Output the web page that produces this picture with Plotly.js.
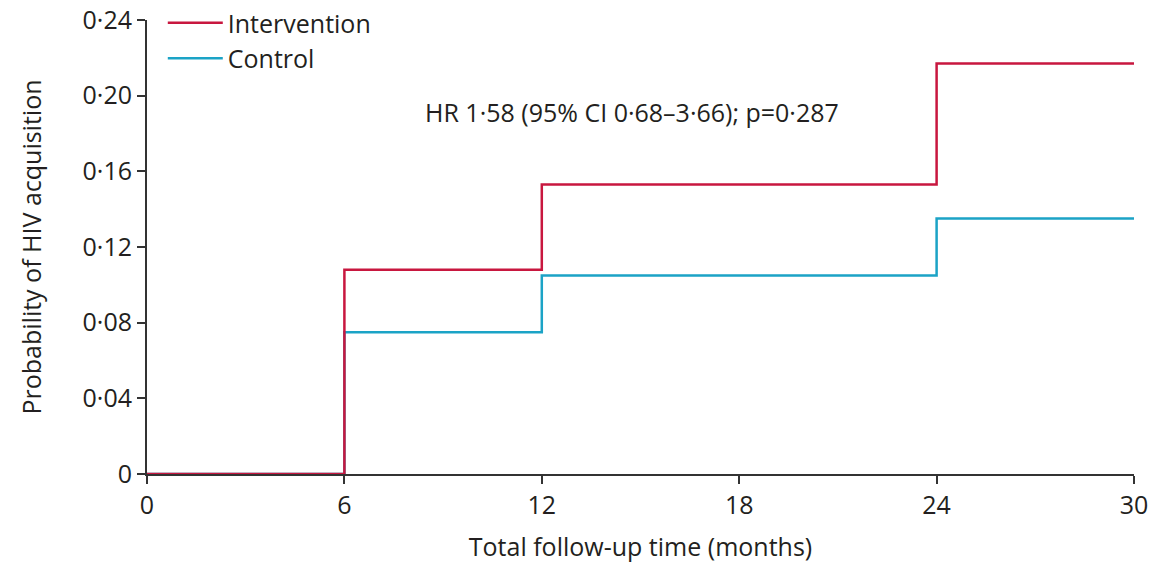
<!DOCTYPE html>
<html>
<head>
<meta charset="utf-8">
<script src="https://cdn.plot.ly/plotly-3.0.1.min.js"></script>
<style>html,body{margin:0;padding:0;background:#fff;}#chart{width:1149px;height:567px;}</style>
</head>
<body>
<div id="chart"></div>
<script>
var months = [0, 6, 12, 24, 30];
var intervention = [0, 0.108, 0.153, 0.217, 0.217];
var control = [0, 0.075, 0.105, 0.135, 0.135];
var xTicks = [0, 6, 12, 18, 24, 30];
var xTickLabels = ["0", "6", "12", "18", "24", "30"];
var yTicks = [0, 0.04, 0.08, 0.12, 0.16, 0.20, 0.24];
var yTickLabels = ["0", "0·04", "0·08", "0·12", "0·16", "0·20", "0·24"];
var annotationText = "HR 1·58 (95% CI 0·68–3·66); p=0·287";

var FONT = "Open Sans, sans-serif";
var traces = [
  {x: months, y: control, name: "Control", type: "scatter", mode: "lines",
   line: {shape: "hv", color: "#1ba3c6", width: 2.5}, cliponaxis: false},
  {x: months, y: intervention, name: "Intervention", type: "scatter", mode: "lines",
   line: {shape: "hv", color: "#c8173f", width: 2.5}, cliponaxis: false}
];
var layout = {
  width: 1149, height: 567,
  margin: {l: 147, r: 15, t: 20, b: 93, autoexpand: false},
  paper_bgcolor: "#fff", plot_bgcolor: "#fff",
  font: {family: FONT, color: "#231f20", size: 25},
  showlegend: true,
  legend: {x: 0.016, xref: "paper", y: 1.012, yref: "container", xanchor: "left", yanchor: "top",
           traceorder: "reversed", font: {size: 25, color: "#231f20"},
           bgcolor: "rgba(0,0,0,0)", itemwidth: 55, tracegroupgap: 0},
  xaxis: {range: [0, 30], tickvals: xTicks, ticktext: xTickLabels, ticks: "outside",
          ticklen: 8, tickwidth: 2, tickcolor: "#333", showline: true, linecolor: "#333",
          linewidth: 2, showgrid: false, zeroline: false, fixedrange: true,
          tickfont: {size: 25},
          title: {text: "Total follow-up time (months)", font: {size: 25}, standoff: 18}},
  yaxis: {range: [0, 0.24], tickvals: yTicks, ticktext: yTickLabels, ticks: "outside",
          ticklen: 8, tickwidth: 2, tickcolor: "#333", showline: true, linecolor: "#333",
          linewidth: 2, showgrid: false, zeroline: false, fixedrange: true,
          tickfont: {size: 25},
          title: {text: "Probability of HIV acquisition", font: {size: 25}, standoff: 34}},
  annotations: [{x: 14.75, y: 0.1915, xref: "x", yref: "y", text: annotationText,
                 showarrow: false, font: {size: 25, color: "#231f20"}}]
};
Plotly.newPlot("chart", traces, layout, {displayModeBar: false, staticPlot: true});
</script>
</body>
</html>
